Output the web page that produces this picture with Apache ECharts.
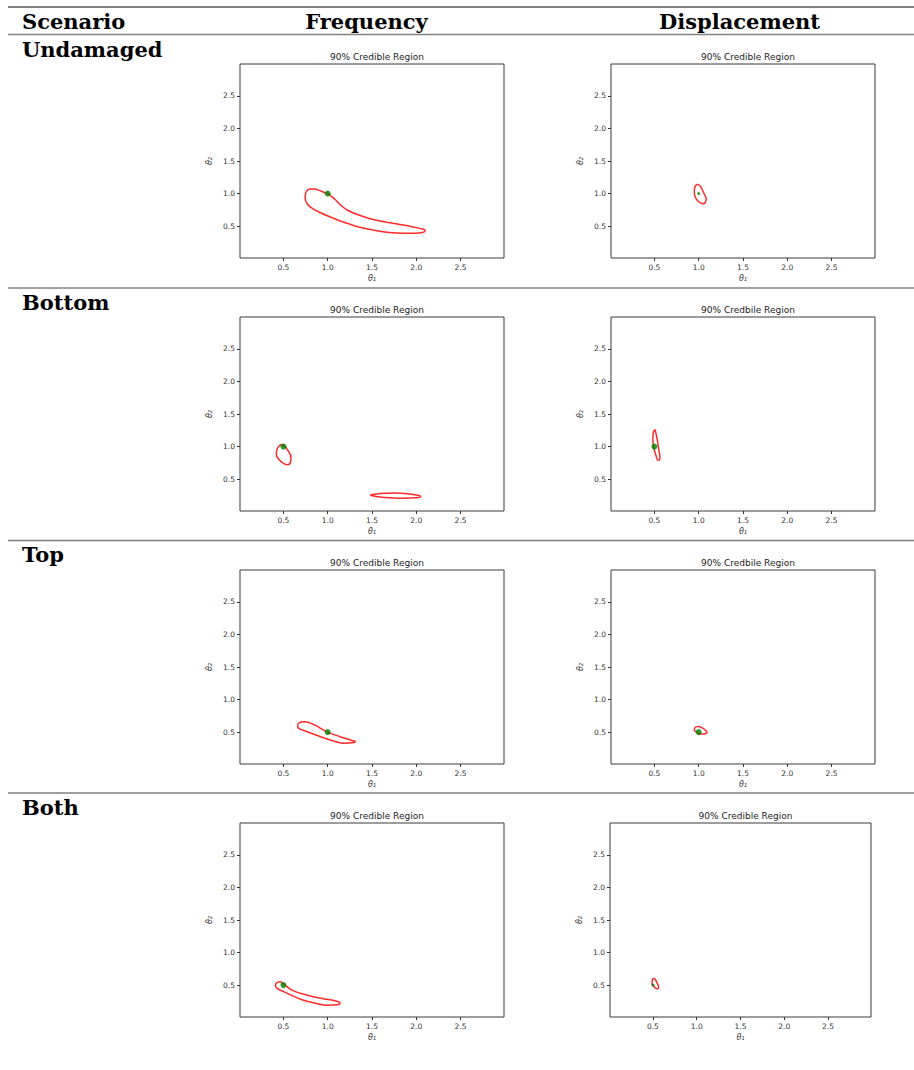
<!DOCTYPE html>
<html>
<head>
<meta charset="utf-8">
<script src="https://cdn.jsdelivr.net/npm/echarts@6/dist/echarts.min.js"></script>
<style>
html,body{margin:0;padding:0;background:#fff;}
#chart{width:914px;height:1070px;}
</style>
</head>
<body>
<div id="chart"></div>
<script>
// ---------- data ----------
const columnHeaders = ['Frequency', 'Displacement'];
const scenarioHeader = 'Scenario';
const scenarios = ['Undamaged', 'Bottom', 'Top', 'Both'];
const panelTitles = [
  '90% Credible Region', '90% Credible Region',
  '90% Credible Region', '90% Credbile Region',
  '90% Credible Region', '90% Credbile Region',
  '90% Credible Region', '90% Credible Region'
];
const xTickValues = [0.5, 1.0, 1.5, 2.0, 2.5];
const yTickValues = [0.5, 1.0, 1.5, 2.0, 2.5];
const xAxisName = 'θ₁';
const yAxisName = 'θ₂';

// true parameter values (green dots), one per panel
const trueTheta = [[1.0, 1.0], [1.0, 1.0], [0.5, 1.0], [0.5, 1.0], [1.0, 0.5], [1.0, 0.5], [0.5, 0.5], [0.5, 0.5]];

// 90% credible region contours
const freqUndamaged = [[1.0,1.0],[1.05,0.95],[1.10,0.885],[1.16,0.805],[1.23,0.74],[1.32,0.685],[1.47,0.618],[1.62,0.572],[1.77,0.535],[1.93,0.497],[2.04,0.465],[2.10,0.435],[2.08,0.405],[1.98,0.39],[1.85,0.39],[1.70,0.40],[1.55,0.43],[1.40,0.47],[1.27,0.52],[1.15,0.575],[1.03,0.64],[0.92,0.705],[0.83,0.77],[0.77,0.84],[0.745,0.93],[0.755,1.02],[0.79,1.065],[0.85,1.07],[0.92,1.04],[1.0,1.0]];
const dispUndamaged = [[0.985,1.145],[1.02,1.11],[1.06,1.0],[1.085,0.92],[1.07,0.855],[1.045,0.845],[1.0,0.875],[0.958,0.955],[0.95,1.04],[0.96,1.11],[0.985,1.145]];
const freqBottomA = [[0.47,1.03],[0.51,1.01],[0.55,0.94],[0.585,0.84],[0.58,0.76],[0.545,0.72],[0.5,0.74],[0.45,0.80],[0.42,0.88],[0.43,0.97],[0.47,1.03]];
const freqBottomB = [[1.48,0.255],[1.6,0.278],[1.75,0.285],[1.9,0.275],[2.03,0.248],[2.05,0.232],[2.0,0.212],[1.85,0.205],[1.7,0.213],[1.55,0.232],[1.48,0.255]];
const dispBottom = [[0.508,1.26],[0.53,1.12],[0.55,0.95],[0.562,0.84],[0.558,0.795],[0.54,0.79],[0.519,0.857],[0.493,0.98],[0.482,1.11],[0.489,1.22],[0.508,1.26]];
const freqTop = [[0.66,0.60],[0.68,0.645],[0.74,0.66],[0.85,0.61],[1.0,0.5],[1.15,0.425],[1.27,0.372],[1.31,0.355],[1.28,0.335],[1.18,0.33],[1.05,0.37],[0.9,0.44],[0.76,0.51],[0.67,0.56],[0.66,0.60]];
const dispTop = [[0.95,0.55],[0.97,0.58],[1.0,0.585],[1.04,0.565],[1.08,0.525],[1.095,0.495],[1.07,0.475],[1.03,0.47],[0.99,0.49],[0.955,0.52],[0.95,0.55]];
const freqBoth = [[0.41,0.48],[0.42,0.53],[0.46,0.55],[0.5,0.52],[0.6,0.42],[0.77,0.345],[0.95,0.292],[1.1,0.252],[1.14,0.222],[1.1,0.198],[1.0,0.192],[0.88,0.215],[0.7,0.28],[0.55,0.37],[0.44,0.44],[0.41,0.48]];
const dispBoth = [[0.49,0.56],[0.505,0.6],[0.525,0.59],[0.545,0.54],[0.565,0.47],[0.555,0.445],[0.535,0.45],[0.505,0.49],[0.49,0.53],[0.49,0.56]];

const panelContours = [
  [freqUndamaged], [dispUndamaged],
  [freqBottomA, freqBottomB], [dispBottom],
  [freqTop], [dispTop],
  [freqBoth], [dispBoth]
];
const dotSizes = [6, 3, 6, 6, 6, 6, 6, 3];

// ---------- layout ----------
const rowTops = [64, 317, 570, 823];
const panelH = 194;
const colLefts = [240, 611];
const panelW = [264, 264];

const grids = [], xAxes = [], yAxes = [], titles = [], series = [];
const axisFont = 'DejaVu Sans';

for (let r = 0; r < 4; r++) {
  for (let c = 0; c < 2; c++) {
    const i = r * 2 + c;
    const w = (r === 3 && c === 1) ? 261 : panelW[c];
    const left = (r === 3 && c === 1) ? 610 : colLefts[c];
    grids.push({
      left: left, top: rowTops[r], width: w, height: panelH,
      show: true, borderColor: '#3a3a3a', borderWidth: 1, backgroundColor: '#fff'
    });
    xAxes.push({
      type: 'value', gridIndex: i, min: 0.01, max: 2.99,
      name: xAxisName, nameLocation: 'middle', nameGap: 16,
      nameTextStyle: { fontSize: 8, fontStyle: 'italic', color: '#333', fontFamily: axisFont },
      axisLine: { show: false },
      splitLine: { show: false },
      axisTick: { show: true, length: 3, lineStyle: { color: '#333' }, customValues: xTickValues },
      axisLabel: { fontSize: 7.5, color: '#333', fontFamily: axisFont, margin: 5,
        customValues: xTickValues, formatter: v => v.toFixed(1) }
    });
    yAxes.push({
      type: 'value', gridIndex: i, min: 0.01, max: 2.99,
      name: yAxisName, nameLocation: 'middle', nameGap: 27,
      nameTextStyle: { fontSize: 8, fontStyle: 'italic', color: '#333', fontFamily: axisFont },
      axisLine: { show: false },
      splitLine: { show: false },
      axisTick: { show: true, length: 3, lineStyle: { color: '#333' }, customValues: yTickValues },
      axisLabel: { fontSize: 7.5, color: '#333', fontFamily: axisFont, margin: 5,
        customValues: yTickValues, formatter: v => v.toFixed(1) }
    });
    titles.push({
      text: panelTitles[i],
      left: left + w / 2, top: rowTops[r] - 17, textAlign: 'center',
      textStyle: { fontSize: 9, fontWeight: 'normal', color: '#222', fontFamily: axisFont }
    });
    panelContours[i].forEach(ct => {
      series.push({
        type: 'line', xAxisIndex: i, yAxisIndex: i, data: ct,
        smooth: 0.4, symbol: 'none', silent: true,
        lineStyle: { color: '#ff2a2a', width: 1.5 }
      });
    });
    series.push({
      type: 'scatter', xAxisIndex: i, yAxisIndex: i, data: [trueTheta[i]],
      symbolSize: dotSizes[i], silent: true, z: 5,
      itemStyle: { color: '#008000' }
    });
  }
}

// ---------- table rules & headers ----------
const headFont = 'bold 21px "DejaVu Serif"';
const graphics = [
  { type: 'line', shape: { x1: 8, y1: 7, x2: 914, y2: 7 }, style: { stroke: '#808080', lineWidth: 2 } },
  { type: 'line', shape: { x1: 8, y1: 34.5, x2: 914, y2: 34.5 }, style: { stroke: '#808080', lineWidth: 1.5 } },
  { type: 'text', style: { text: scenarioHeader, x: 22, y: 21, font: headFont, fill: '#000', textAlign: 'left', textVerticalAlign: 'middle' } },
  { type: 'text', style: { text: columnHeaders[0], x: 366.5, y: 21, font: headFont, fill: '#000', textAlign: 'center', textVerticalAlign: 'middle' } },
  { type: 'text', style: { text: columnHeaders[1], x: 739.5, y: 21, font: headFont, fill: '#000', textAlign: 'center', textVerticalAlign: 'middle' } }
];
const sepYs = [288, 540.5, 793];
sepYs.forEach(y => graphics.push({ type: 'line', shape: { x1: 8, y1: y, x2: 914, y2: y }, style: { stroke: '#808080', lineWidth: 1.5 } }));
const labelYs = [49, 302, 554.5, 807];
scenarios.forEach((s, r) => graphics.push({
  type: 'text', style: { text: s, x: 22, y: labelYs[r], font: headFont, fill: '#000', textAlign: 'left', textVerticalAlign: 'middle' }
}));

const chart = echarts.init(document.getElementById('chart'), null, { renderer: 'svg', width: 914, height: 1070 });
chart.setOption({
  animation: false,
  backgroundColor: '#fff',
  title: titles,
  grid: grids,
  xAxis: xAxes,
  yAxis: yAxes,
  series: series,
  graphic: graphics
});
</script>
</body>
</html>
